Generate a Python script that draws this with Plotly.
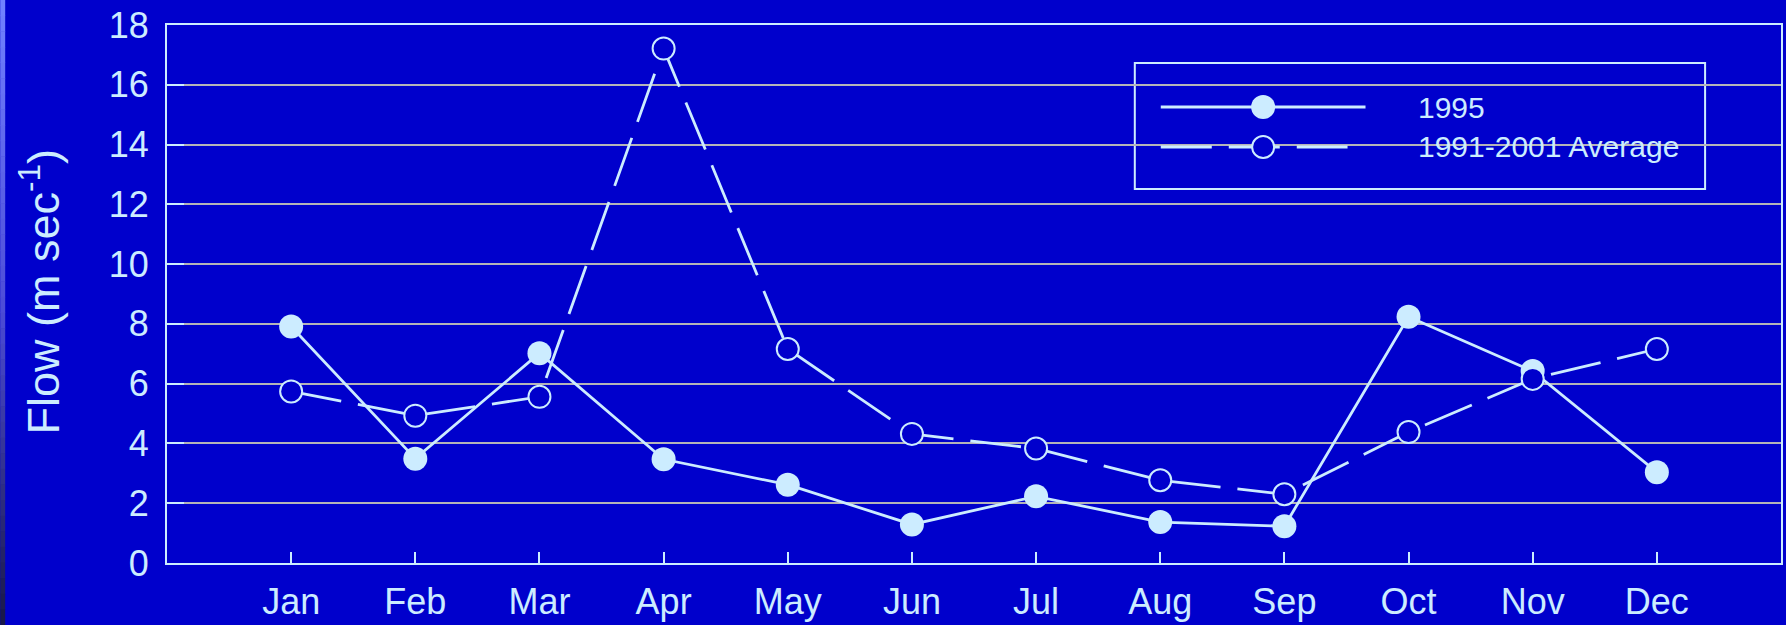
import plotly.graph_objects as go

months = ["Jan", "Feb", "Mar", "Apr", "May", "Jun", "Jul", "Aug", "Sep", "Oct", "Nov", "Dec"]
flow_1995 = [7.91, 3.49, 7.02, 3.47, 2.62, 1.29, 2.23, 1.37, 1.23, 8.24, 6.42, 3.04]
flow_avg = [5.74, 4.93, 5.56, 17.21, 7.16, 4.32, 3.83, 2.77, 2.30, 4.38, 6.16, 7.16]
y_ticks = [0, 2, 4, 6, 8, 10, 12, 14, 16, 18]
series_names = ["1995", "1991-2001 Average"]

W, H = 1786, 625
L, R, T, B = 167, 3, 25, 62
PW, PH = W - L - R, H - T - B

BG = "#0000CC"
FG = "#CCECFF"
GRID = "#B4B4B8"
FONT = "Liberation Sans, Arial, sans-serif"
DASH = "51px,17px"
LW = 2.8


def px_x(p):
    return (p - L) / PW


def px_y(p):
    return (H - B - p) / PH


fig = go.Figure()

fig.add_trace(go.Scatter(
    x=months, y=flow_1995, mode="lines+markers", name=series_names[0],
    line=dict(color=FG, width=LW),
    marker=dict(size=24, color=FG, line=dict(width=0)),
    showlegend=False, cliponaxis=False,
))
fig.add_trace(go.Scatter(
    x=months, y=flow_avg, mode="lines+markers", name=series_names[1],
    line=dict(color=FG, width=LW, dash=DASH),
    marker=dict(size=22, color=BG, line=dict(width=2, color=FG)),
    showlegend=False, cliponaxis=False,
))

# custom legend drawn on an overlay axis measured in pixels
leg_x0, leg_x1 = 1162, 1367
leg_y1, leg_y2 = 107, 147
fig.add_trace(go.Scatter(
    x=[leg_x0, leg_x1], y=[leg_y1, leg_y1], mode="lines", xaxis="x2", yaxis="y2",
    line=dict(color=FG, width=LW), showlegend=False, hoverinfo="skip",
))
fig.add_trace(go.Scatter(
    x=[(leg_x0 + leg_x1) / 2], y=[leg_y1], mode="markers", xaxis="x2", yaxis="y2",
    marker=dict(size=24, color=FG), showlegend=False, hoverinfo="skip",
))
fig.add_trace(go.Scatter(
    x=[leg_x0, 1349], y=[leg_y2, leg_y2], mode="lines", xaxis="x2", yaxis="y2",
    line=dict(color=FG, width=LW, dash=DASH), showlegend=False, hoverinfo="skip",
))
fig.add_trace(go.Scatter(
    x=[(leg_x0 + leg_x1) / 2], y=[leg_y2], mode="markers", xaxis="x2", yaxis="y2",
    marker=dict(size=22, color=BG, line=dict(width=2, color=FG)),
    showlegend=False, hoverinfo="skip",
))

shapes = [
    dict(type="rect", xref="paper", yref="paper",
         x0=px_x(1136), x1=px_x(1707), y0=px_y(189), y1=px_y(63),
         line=dict(color=FG, width=2), fillcolor=BG, layer="between"),
]
# slide-background gradient strip on the left edge
top_c = (112, 128, 255)
mid_c = (75, 75, 215)
bot_c = (25, 25, 75)
n = 40
for i in range(n):
    t = i / (n - 1)
    if t < 0.5:
        u = t / 0.5
        c = [round(top_c[k] + (mid_c[k] - top_c[k]) * u) for k in range(3)]
    else:
        u = (t - 0.5) / 0.5
        c = [round(mid_c[k] + (bot_c[k] - mid_c[k]) * u) for k in range(3)]
    y0p = i * H / n
    y1p = (i + 1) * H / n + 0.5
    shapes.append(dict(type="rect", xref="paper", yref="paper",
                       x0=px_x(0), x1=px_x(5), y0=px_y(y1p), y1=px_y(y0p),
                       line=dict(width=0), fillcolor=f"rgb({c[0]},{c[1]},{c[2]})",
                       layer="below"))

annotations = [
    dict(text=series_names[0], xref="paper", yref="paper", x=px_x(1418), y=px_y(leg_y1),
         xanchor="left", yanchor="middle", showarrow=False,
         font=dict(family=FONT, size=30, color=FG)),
    dict(text=series_names[1], xref="paper", yref="paper", x=px_x(1418), y=px_y(leg_y2),
         xanchor="left", yanchor="middle", showarrow=False,
         font=dict(family=FONT, size=30, color=FG)),
    dict(text="Flow (m sec<sup>-1</sup>)", xref="paper", yref="paper",
         x=px_x(40), y=0.505, xanchor="center", yanchor="middle", textangle=-90,
         showarrow=False, font=dict(family=FONT, size=45, color=FG)),
]

fig.update_layout(
    width=W, height=H,
    margin=dict(l=L, r=R, t=T, b=B, pad=0),
    paper_bgcolor=BG, plot_bgcolor=BG,
    font=dict(family=FONT, color=FG),
    showlegend=False,
    shapes=shapes,
    annotations=annotations,
    xaxis=dict(
        type="category", range=[-1, 12], categoryorder="array", categoryarray=months,
        showgrid=False, zeroline=False,
        showline=True, linecolor=FG, linewidth=2, mirror=True,
        ticks="inside", ticklen=11, tickwidth=2, tickcolor=FG,
        tickfont=dict(family=FONT, size=36, color=FG),
        ticklabelstandoff=6,
    ),
    yaxis=dict(
        range=[0, 18], tickvals=y_ticks,
        showgrid=True, gridcolor=GRID, gridwidth=1.6, zeroline=False,
        showline=True, linecolor=FG, linewidth=2, mirror=True,
        ticks="inside", ticklen=17, tickwidth=2, tickcolor=FG,
        tickfont=dict(family=FONT, size=36, color=FG),
        ticklabelstandoff=9,
    ),
    xaxis2=dict(overlaying="x", range=[L, W - R], visible=False, fixedrange=True),
    yaxis2=dict(overlaying="y", range=[H - B, T], visible=False, fixedrange=True),
)

fig.write_html(
    "out.html",
    config={"displayModeBar": False},
    post_script="document.body.style.margin='0px';document.body.style.padding='0px';"
                "document.body.style.overflow='hidden';document.body.style.background='#0000CC';",
)
